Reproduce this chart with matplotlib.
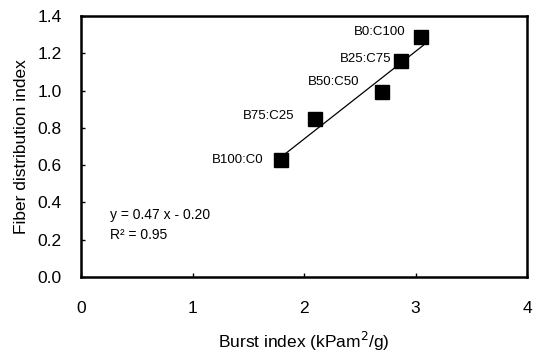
"""
Fiber distribution index against burst index for the blend series,
with the linear fit drawn over the points.
"""

import matplotlib
matplotlib.use("Agg")
import matplotlib.pyplot as plt
import numpy as np

plt.rcParams['font.family'] = ['Liberation Sans', 'DejaVu Sans']

# data
blends = ["B100:C0", "B75:C25", "B50:C50", "B25:C75", "B0:C100"]
burst_index = [1.79, 2.10, 2.70, 2.87, 3.05]
fiber_dist = [0.63, 0.85, 0.99, 1.16, 1.29]
fit_slope = 0.47
fit_intercept = -0.20
fit_r2 = 0.95

# label offsets in pixels (text right edge relative to marker)
label_offsets = [(-17, 0), (-21, 3), (-23, 10), (-10, 2), (-16, 5)]

fig = plt.figure(figsize=(5.38, 3.56), dpi=100)
ax = fig.add_axes([0.1506, 0.222, 0.829, 0.733])

# fitted line across the measured range
xs = np.array([min(burst_index), max(burst_index) + 0.02])
ax.plot(xs, fit_slope * xs + fit_intercept, color='black', lw=0.9, zorder=2)

ax.plot(burst_index, fiber_dist, linestyle='none', marker='s',
        markersize=10, color='black', zorder=3)

for name, x, y, (dx, dy) in zip(blends, burst_index, fiber_dist, label_offsets):
    ax.annotate(name, (x, y), xytext=(dx, dy), textcoords='offset pixels',
                ha='right', va='center', fontsize=9.5)

ax.text(0.26, 0.33, "y = %.2f x - %.2f" % (fit_slope, abs(fit_intercept)),
        fontsize=10, va='center')
ax.text(0.26, 0.225, "R² = %.2f" % fit_r2, fontsize=10, va='center')

ax.set_xlim(0, 4)
ax.set_ylim(0, 1.4)
ax.set_xticks([0, 1, 2, 3, 4])
ax.set_yticks(np.arange(0, 1.41, 0.2))
ax.set_yticklabels(["%.1f" % v for v in np.arange(0, 1.41, 0.2)])
ax.tick_params(direction='in', length=3, width=1, labelsize=12.5)
ax.tick_params(axis='x', pad=17)
ax.tick_params(axis='y', pad=14)
for sp in ax.spines.values():
    sp.set_linewidth(1.8)

ax.set_xlabel("Burst index (kPam$^2$/g)", fontsize=12.5, labelpad=10)
ax.set_ylabel("Fiber distribution index", fontsize=12.5, labelpad=6)

fig.savefig("out.png", dpi=100)
plt.close(fig)
